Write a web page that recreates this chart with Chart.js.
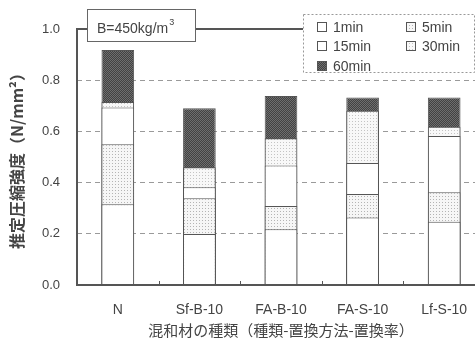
<!DOCTYPE html>
<html>
<head>
<meta charset="utf-8">
<script src="https://cdn.jsdelivr.net/npm/chart.js@4.4.0/dist/chart.umd.min.js"></script>
<style>
  html, body { margin: 0; padding: 0; background: #fff; overflow: hidden; }
  #wrap { width: 475px; height: 342px; overflow: hidden; }
</style>
</head>
<body>
<div id="wrap"><canvas id="c" width="490" height="342"></canvas></div>
<script>
// Mixture types (type - replacement method - replacement ratio)
const categories = ['N', 'Sf-B-10', 'FA-B-10', 'FA-S-10', 'Lf-S-10'];
const seriesNames = ['1min', '5min', '15min', '30min', '60min'];
// Estimated compressive strength (N/mm²) reached after each mixing time
const strength1min  = [0.315, 0.199, 0.218, 0.264, 0.247];
const strength5min  = [0.550, 0.339, 0.309, 0.355, 0.362];
const strength15min = [0.693, 0.382, 0.467, 0.477, 0.582];
const strength30min = [0.715, 0.460, 0.573, 0.681, 0.618];
const strength60min = [0.918, 0.690, 0.738, 0.732, 0.732];
const yTicks = [0.0, 0.2, 0.4, 0.6, 0.8, 1.0];
const noteText = 'B=450kg/m';
const noteSup = '3';

const FONT = '"Liberation Sans", "Noto Sans CJK JP", sans-serif';
const JFONT = '"Noto Sans CJK JP", "Liberation Sans", sans-serif';
const EDGE = '#555';

// Fill textures
function makePattern(w, h, paint) {
  const c = document.createElement('canvas');
  c.width = w; c.height = h;
  const g = c.getContext('2d');
  paint(g);
  return g.createPattern(c, 'repeat');
}
const ctx = document.getElementById('c').getContext('2d');
const lightDots = makePattern(3, 3, g => {
  g.fillStyle = '#f6f6f6'; g.fillRect(0, 0, 3, 3);
  g.fillStyle = '#b4b4b4'; g.fillRect(1, 1, 1, 1);
});
const paleDots = makePattern(3, 3, g => {
  g.fillStyle = '#f8f8f8'; g.fillRect(0, 0, 3, 3);
  g.fillStyle = '#c4c4c4'; g.fillRect(1, 1, 1, 1);
});
const darkDots = makePattern(2, 2, g => {
  g.fillStyle = '#424242'; g.fillRect(0, 0, 2, 2);
  g.fillStyle = '#6e6e6e'; g.fillRect(0, 0, 1, 1); g.fillRect(1, 1, 1, 1);
});
const fills = ['#ffffff', lightDots, '#ffffff', paleDots, darkDots];
const seriesValues = [strength1min, strength5min, strength15min, strength30min, strength60min];

// Bars overlap at each category: the first dataset is drawn on top
const datasets = seriesNames.map((name, i) => ({
  label: name,
  data: seriesValues[i],
  backgroundColor: fills[i],
  borderColor: EDGE,
  borderWidth: 1,
  borderSkipped: 'start',
  grouped: false,
  categoryPercentage: 1.0,
  barPercentage: 0.4
}));

const decorations = {
  id: 'decorations',
  afterDraw(chart) {
    const c = chart.ctx;
    const a = chart.chartArea;
    const xs = chart.scales.x, ys = chart.scales.y;
    const yTop = ys.getPixelForValue(1.0), yBot = ys.getPixelForValue(0);
    c.save();
    // Frame: top, left, bottom
    c.strokeStyle = EDGE; c.lineWidth = 2;
    c.beginPath();
    c.moveTo(chart.width, yTop); c.lineTo(a.left, yTop);
    c.lineTo(a.left, yBot); c.lineTo(chart.width, yBot);
    c.stroke();
    // Small inner ticks between categories
    c.lineWidth = 1;
    for (let i = 1; i < categories.length; i++) {
      const x = Math.round((xs.getPixelForValue(i - 1) + xs.getPixelForValue(i)) / 2) + 0.5;
      c.beginPath(); c.moveTo(x, yBot); c.lineTo(x, yBot - 4); c.stroke();
    }
    // Binder note box
    c.fillStyle = '#fff'; c.fillRect(87, 9, 108, 32);
    c.strokeStyle = '#666'; c.lineWidth = 1;
    c.strokeRect(87.5, 9.5, 108, 32);
    c.fillStyle = '#444';
    c.font = '14px ' + FONT;
    c.textBaseline = 'alphabetic'; c.textAlign = 'left';
    c.fillText(noteText, 97, 33);
    const w = c.measureText(noteText).width;
    c.font = '9px ' + FONT;
    c.fillText(noteSup, 97 + w + 1, 25);
    // Legend box
    c.fillStyle = '#fff'; c.fillRect(303, 14, 171, 58);
    c.strokeStyle = '#999'; c.setLineDash([2, 2]);
    c.strokeRect(303.5, 14.5, 171, 58);
    c.setLineDash([]);
    const cols = [317, 406], rows = [27, 46, 66];
    chart.data.datasets.forEach((ds, i) => {
      const x = cols[i % 2], y = rows[Math.floor(i / 2)];
      c.fillStyle = ds.backgroundColor;
      c.fillRect(x, y - 5, 9, 9);
      c.strokeStyle = EDGE; c.lineWidth = 1;
      c.strokeRect(x + 0.5, y - 4.5, 9, 9);
      c.fillStyle = '#444';
      c.font = '14px ' + FONT;
      c.textBaseline = 'middle';
      c.fillText(ds.label, x + 16, y + 1);
    });
    c.restore();
  }
};

new Chart(ctx, {
  type: 'bar',
  data: { labels: categories, datasets },
  options: {
    responsive: false,
    animation: false,
    devicePixelRatio: 1,
    layout: { padding: { top: 29, right: 5, left: 0, bottom: 0 } },
    plugins: { legend: { display: false }, tooltip: { enabled: false } },
    scales: {
      x: {
        stacked: false,
        grid: { display: false },
        border: { display: false },
        ticks: { color: '#444', font: { family: FONT, size: 14 }, padding: 9, maxRotation: 0 },
        title: {
          display: true,
          text: '混和材の種類（種類-置換方法-置換率）',
          color: '#444',
          font: { family: JFONT, size: 15 },
          padding: { top: 0, bottom: 3 }
        },
        afterFit(s) { s.height = 57; }
      },
      y: {
        min: 0, max: 1.0,
        afterBuildTicks(s) { s.ticks = yTicks.map(v => ({ value: v })); },
        grid: {
          drawTicks: false,
          lineWidth: 1,
          color: c => (c.tick && c.tick.value > 0 && c.tick.value < 1) ? '#9a9a9a' : 'rgba(0,0,0,0)'
        },
        border: { display: false, dash: [5, 4] },
        ticks: { color: '#444', font: { family: FONT, size: 13 }, padding: 17, callback: v => v.toFixed(1) },
        title: {
          display: true,
          text: '推定圧縮強度（N/mm²）',
          color: '#444',
          font: { family: JFONT, size: 16, weight: 'bold' },
          padding: { top: 7, bottom: 0 }
        },
        afterFit(s) { s.width = 77; }
      }
    }
  },
  plugins: [decorations]
});
</script>
</body>
</html>
